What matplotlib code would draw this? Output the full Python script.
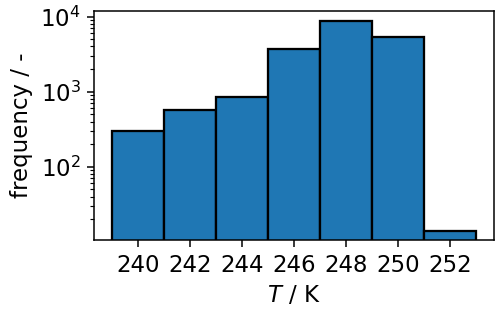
import matplotlib
matplotlib.use("Agg")
import matplotlib.pyplot as plt
import numpy as np

bin_edges = [239, 241, 243, 245, 247, 249, 251, 253]
counts = [299, 563, 858, 3745, 8850, 5360, 14]
xticks = [240, 242, 244, 246, 248, 250, 252]

plt.rcParams['font.size'] = 12
DPI = 137
fig = plt.figure(figsize=(500.4 / DPI, 312.4 / DPI), dpi=DPI)
ax = fig.add_axes([0.188, 0.2308, 0.80, 0.7339])

centers = [(a + b) / 2 for a, b in zip(bin_edges[:-1], bin_edges[1:])]
ax.hist(centers, bins=bin_edges, weights=counts, color='#1f77b4',
        edgecolor='black', linewidth=1.2, log=True)
ax.set_yscale('log')
ax.set_ylim(10.6, 12000)
ax.set_xlim(238.3, 253.7)
ax.set_xticks(xticks)
ax.set_xlabel('$T$ / K')
ax.set_ylabel('frequency / -')

fig.savefig('out.png', dpi=DPI)
